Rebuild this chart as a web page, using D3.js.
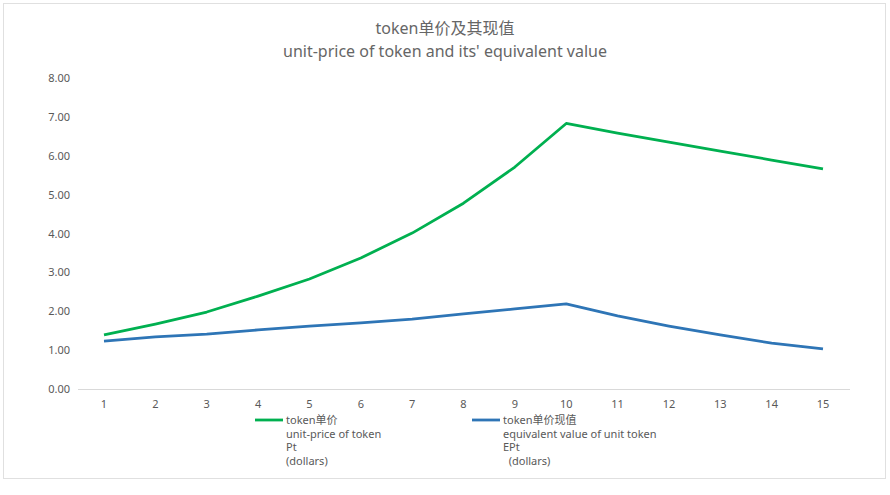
<!DOCTYPE html>
<html><head><meta charset="utf-8">
<script src="https://cdn.jsdelivr.net/npm/d3@7"></script>
<style>body{margin:0;background:#fff;font-family:"Noto Sans","Noto Sans CJK SC",sans-serif;}</style>
</head><body><svg id="c" width="890" height="495"></svg>
<script>
const periods = d3.range(1, 16);
const price = [1.39,1.67,1.98,2.39,2.83,3.37,4.01,4.78,5.71,6.83,6.58,6.35,6.12,5.89,5.66];
const equiv = [1.23,1.34,1.41,1.52,1.62,1.70,1.80,1.93,2.06,2.19,1.88,1.62,1.39,1.18,1.03];
const yTicks = [0,1,2,3,4,5,6,7,8];
const seriesNames = [
  ["token单价","unit-price of token","Pt","(dollars)"],
  ["token单价现值","equivalent value of unit token","EPt","  (dollars)"]
];
const colors = ["#00b050","#2e75b6"];

const svg = d3.select('#c');
svg.append('rect').attr('x',3.5).attr('y',3.5).attr('width',882).attr('height',475)
  .attr('fill','none').attr('stroke','#e0e0e0');

const x = d3.scalePoint().domain(periods).range([104, 823]);
const y = d3.scaleLinear().domain([0, 8]).range([389, 78]);

svg.append('text').attr('x',445).attr('y',34).attr('text-anchor','middle')
  .attr('font-size',16).attr('fill','#666').text('token单价及其现值');
svg.append('text').attr('x',445).attr('y',57).attr('text-anchor','middle')
  .attr('font-size',16).attr('fill','#666').text("unit-price of token and its' equivalent value");

svg.append('line').attr('x1',78).attr('x2',850).attr('y1',389.5).attr('y2',389.5).attr('stroke','#d9d9d9');

svg.selectAll('.yl').data(yTicks).enter().append('text')
  .attr('x',70).attr('y',d=>y(d)+4).attr('text-anchor','end')
  .attr('font-size',11).attr('fill','#595959').text(d=>d.toFixed(2));
svg.selectAll('.xl').data(periods).enter().append('text')
  .attr('x',d=>x(d)).attr('y',408).attr('text-anchor','middle')
  .attr('font-size',11).attr('fill','#595959').text(d=>d);

const line = d3.line().x((d,i)=>x(periods[i])).y(d=>y(d));
[price, equiv].forEach((s,i)=>{
  svg.append('path').attr('d',line(s)).attr('fill','none')
    .attr('stroke',colors[i]).attr('stroke-width',2.8).attr('stroke-linejoin','round');
});

const lx = [255, 472];
seriesNames.forEach((lines,i)=>{
  svg.append('line').attr('x1',lx[i]).attr('x2',lx[i]+28).attr('y1',420).attr('y2',420)
    .attr('stroke',colors[i]).attr('stroke-width',2.8);
  lines.forEach((t,j)=>{
    svg.append('text').attr('x',lx[i]+31).attr('y',424+j*13.5)
      .attr('font-size',11).attr('fill','#595959').attr('xml:space','preserve').text(t);
  });
});
</script></body></html>
